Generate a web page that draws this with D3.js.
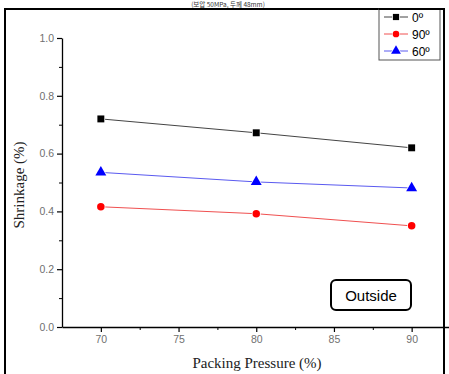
<!DOCTYPE html>
<html><head><meta charset="utf-8">
<script src="https://cdn.jsdelivr.net/npm/d3@7"></script>
<style>body{margin:0;background:#fff}svg{display:block}</style>
</head><body>
<svg id="c" width="449" height="374"></svg>
<script>
const pressures = [70, 80, 90];
const s0 = [0.72, 0.672, 0.62];
const s90 = [0.416, 0.392, 0.35];
const s60 = [0.535, 0.502, 0.481];
const seriesNames = ["0º", "90º", "60º"];
const yTicks = [0.0, 0.2, 0.4, 0.6, 0.8, 1.0];
const xTicks = [70, 75, 80, 85, 90];

const series = [
  {name: seriesNames[0], vals: s0, line: "#444", fill: "#000", sym: d3.symbolSquare, size: 48},
  {name: seriesNames[1], vals: s90, line: "#f05050", fill: "#f00", sym: d3.symbolCircle, size: 44},
  {name: seriesNames[2], vals: s60, line: "#5a5af0", fill: "#00f", sym: d3.symbolTriangle, size: 52}
];

const svg = d3.select("#c");
const x = d3.scaleLinear().domain([67.5, 92.5]).range([62, 450.5]);
const y = d3.scaleLinear().domain([0, 1]).range([327, 38]);

// top caption (cut off in the original)
svg.append("text").attr("x", 228).attr("y", 7).attr("text-anchor", "middle")
  .attr("font-family", "Noto Sans CJK KR, sans-serif").attr("font-size", 6.5).attr("fill", "#333")
  .text("(보압 50MPa, 두께 48mm)");

// frame
svg.append("path").attr("d", "M5,374 V9 H444 V374").attr("fill", "none").attr("stroke", "#000").attr("stroke-width", 2);

const gray = "#707070";
// y axis
const yAxis = d3.axisLeft(y).tickValues(yTicks).tickFormat(d3.format(".1f")).tickSize(5).tickSizeOuter(0);
const gy = svg.append("g").attr("transform", "translate(62,0)").call(yAxis);
gy.select(".domain").attr("stroke", "#000").attr("stroke-width", 1.3);
gy.selectAll(".tick line").attr("stroke", "#000").attr("stroke-width", 1.2);
gy.selectAll(".tick text").attr("fill", gray).attr("font-family", "Arial, Liberation Sans, sans-serif").attr("font-size", 10.5).attr("x", -8);
const gym = svg.append("g").attr("transform", "translate(62,0)")
  .call(d3.axisLeft(y).tickValues(d3.range(0.1, 1, 0.2)).tickSize(3).tickFormat(""));
gym.select(".domain").remove();
gym.selectAll(".tick line").attr("stroke", "#000");

// x axis
const xAxis = d3.axisBottom(x).tickValues(xTicks).tickSize(5).tickSizeOuter(0);
const gx = svg.append("g").attr("transform", "translate(0,327)").call(xAxis);
gx.select(".domain").attr("stroke", "#000").attr("stroke-width", 1.3);
gx.selectAll(".tick line").attr("stroke", "#000").attr("stroke-width", 1.2);
gx.selectAll(".tick text").attr("fill", gray).attr("font-family", "Arial, Liberation Sans, sans-serif").attr("font-size", 10.5).attr("y", 9);
const gxm = svg.append("g").attr("transform", "translate(0,327)")
  .call(d3.axisBottom(x).tickValues([72.5, 77.5, 82.5, 87.5]).tickSize(3).tickFormat(""));
gxm.select(".domain").remove();
gxm.selectAll(".tick line").attr("stroke", "#000");

// axis titles
svg.append("text").attr("transform", "translate(24,185) rotate(-90)").attr("text-anchor", "middle")
  .attr("font-family", "Liberation Serif, DejaVu Serif, serif").attr("font-size", 15).attr("fill", "#222").text("Shrinkage (%)");
svg.append("text").attr("x", 257).attr("y", 368).attr("text-anchor", "middle")
  .attr("font-family", "Liberation Serif, DejaVu Serif, serif").attr("font-size", 15).attr("fill", "#222").text("Packing Pressure (%)");

// series
const line = d3.line().x((d, i) => x(pressures[i])).y(d => y(d));
series.forEach(s => {
  svg.append("path").attr("d", line(s.vals)).attr("fill", "none").attr("stroke", s.line).attr("stroke-width", 1);
});
series.forEach(s => {
  svg.selectAll(null).data(s.vals).enter().append("path")
    .attr("d", d3.symbol().type(s.sym).size(s.size))
    .attr("transform", (d, i) => `translate(${x(pressures[i])},${y(d)})`)
    .attr("fill", s.fill).attr("stroke", "#fff").attr("stroke-width", 1.5).attr("paint-order", "stroke");
});

// legend
const lg = svg.append("g");
lg.append("rect").attr("x", 379).attr("y", 9).attr("width", 61).attr("height", 51)
  .attr("fill", "#fff").attr("stroke", "#555").attr("stroke-width", 1);
svg.append("line").attr("x1", 379).attr("x2", 441).attr("y1", 9).attr("y2", 9).attr("stroke", "#000").attr("stroke-width", 2);
series.forEach((s, i) => {
  const yy = 17 + i * 17;
  lg.append("line").attr("x1", 384).attr("x2", 408).attr("y1", yy).attr("y2", yy).attr("stroke", s.line).attr("stroke-width", 1);
  lg.append("path").attr("d", d3.symbol().type(s.sym).size(s.size * 0.8)).attr("transform", `translate(396,${yy})`)
    .attr("fill", s.fill).attr("stroke", "#fff").attr("stroke-width", 1.5).attr("paint-order", "stroke");
  lg.append("text").attr("x", 412).attr("y", yy + 4.5).attr("font-family", "Arial, Liberation Sans, sans-serif")
    .attr("font-size", 12).attr("fill", "#000").text(s.name);
});

// annotation box
svg.append("rect").attr("x", 331).attr("y", 280).attr("width", 80).attr("height", 30).attr("rx", 5)
  .attr("fill", "#fff").attr("stroke", "#000").attr("stroke-width", 2);
svg.append("text").attr("x", 371).attr("y", 300.5).attr("text-anchor", "middle")
  .attr("font-family", "Arial, Liberation Sans, sans-serif").attr("font-size", 15).attr("fill", "#000").text("Outside");
</script>
</body></html>
